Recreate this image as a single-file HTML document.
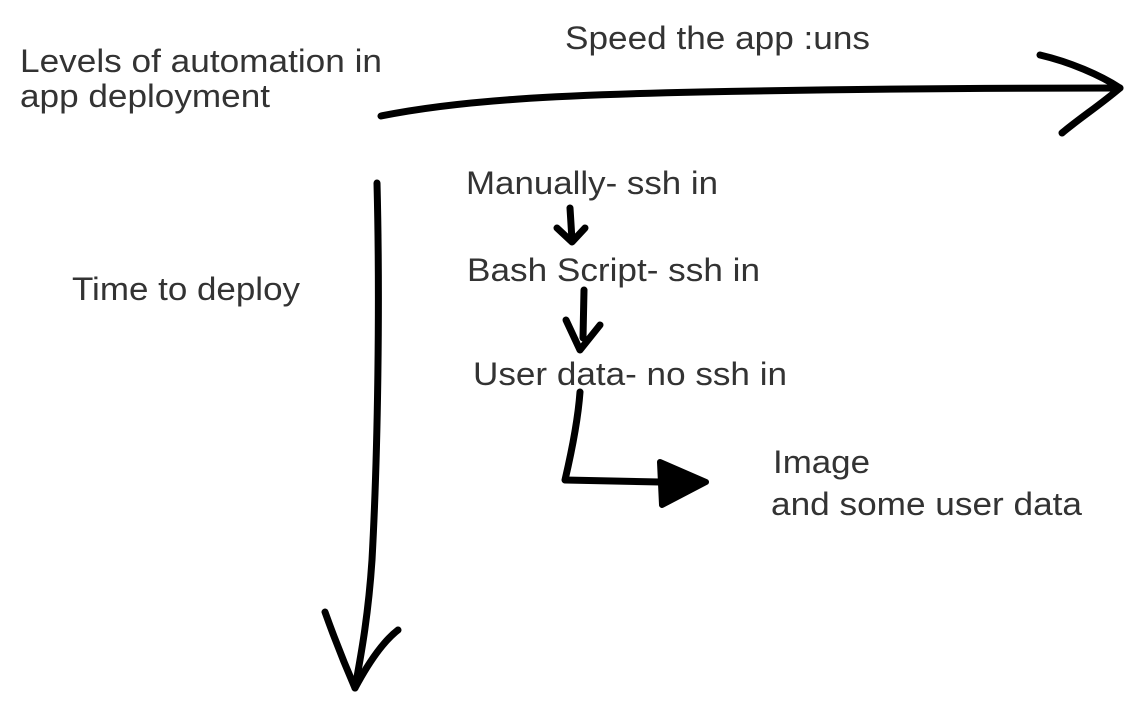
<!DOCTYPE html>
<html><head><meta charset="utf-8"><style>
html,body{margin:0;padding:0;background:#fff;width:1143px;height:713px;overflow:hidden}
svg{display:block}
text{font-family:"Liberation Sans",sans-serif;font-size:32px;fill:#333}
</style></head><body>
<svg width="1143" height="713" viewBox="0 0 1143 713">
<text x="20" y="72" textLength="362" lengthAdjust="spacingAndGlyphs">Levels of automation in</text>
<text x="20" y="107" textLength="250" lengthAdjust="spacingAndGlyphs">app deployment</text>
<text x="565" y="49" textLength="305" lengthAdjust="spacingAndGlyphs">Speed the app :uns</text>
<text x="72" y="300" textLength="228" lengthAdjust="spacingAndGlyphs">Time to deploy</text>
<text x="466" y="194" textLength="252" lengthAdjust="spacingAndGlyphs">Manually- ssh in</text>
<text x="467" y="281" textLength="293" lengthAdjust="spacingAndGlyphs">Bash Script- ssh in</text>
<text x="473" y="385" textLength="314" lengthAdjust="spacingAndGlyphs">User data- no ssh in</text>
<text x="773" y="473" textLength="97" lengthAdjust="spacingAndGlyphs">Image</text>
<text x="771" y="515" textLength="311" lengthAdjust="spacingAndGlyphs">and some user data</text>
<g fill="none" stroke="#000" stroke-width="7" stroke-linecap="round" stroke-linejoin="round">
<path d="M381 116 C 460 100, 560 95, 700 92 C 850 89, 1000 88, 1120 88"/>
<path d="M1040 55 C 1070 62, 1100 75, 1120 88 C 1100 105, 1080 118, 1062 133"/>
<path d="M377 183 C 380 300, 378 450, 372 560 C 368 620, 360 660, 355 688"/>
<path d="M325 612 C 335 640, 345 665, 355 688 C 370 660, 385 640, 398 630"/>
<path d="M570 208 L 572 240"/>
<path d="M557 228 L 572 242 L 585 228"/>
<path d="M584 290 L 583 338"/>
<path d="M566 320 L 580 350 L 600 325"/>
<path d="M580 392 C 578 420, 572 450, 565 480 L 660 482"/>
</g>
<path d="M660 462 L 706 482 L 662 505 Z" fill="#000" stroke="#000" stroke-width="6" stroke-linejoin="round"/>
</svg>
</body></html>
